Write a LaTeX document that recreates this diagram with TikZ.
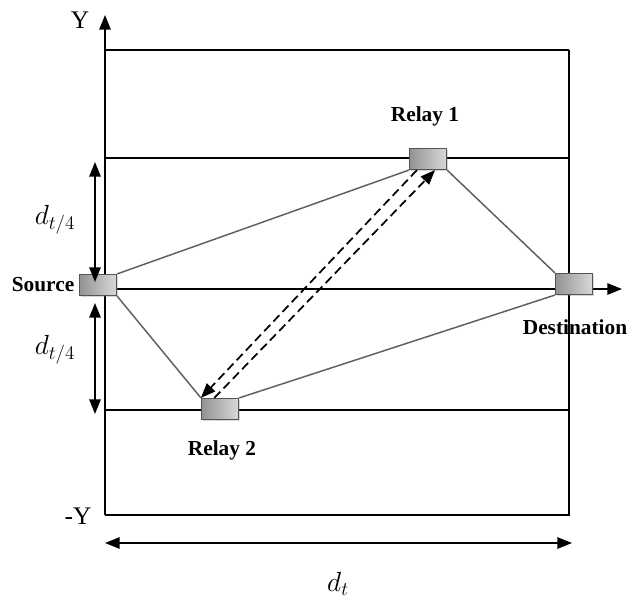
\documentclass[tikz,border=0pt]{standalone}
\usepackage{fontspec}
\setmainfont{Liberation Serif}
\usepackage{amsmath}
\usetikzlibrary{arrows.meta,positioning,shadows}
\definecolor{relayGray}{RGB}{120,120,120}
\definecolor{linkGray}{RGB}{95,95,95}

\tikzset{
  relay/.style={draw=relayGray!70!black, line width=0.6pt, minimum width=28pt, minimum height=16pt,
    inner sep=0pt, left color=gray!85, right color=gray!30,
    drop shadow={shadow xshift=1.2pt, shadow yshift=-1.2pt, opacity=0.3}},
  lbl/.style={font=\fontsize{16}{19}\selectfont\bfseries},
  link/.style={draw=linkGray, line width=1.1pt},
  grid/.style={line width=1pt},
  axis/.style={line width=1.4pt, -{Triangle[length=11pt,width=8.5pt]}},
  span/.style={line width=1.4pt, {Triangle[length=11pt,width=8.5pt]}-{Triangle[length=11pt,width=8.5pt]}},
  dim/.style={font=\fontsize{22}{26}\selectfont},
}

\begin{document}
\begin{tikzpicture}[x=0.75pt,y=-0.75pt]
\useasboundingbox[fill=white] (0,0) rectangle (630,606);
% region lines
\draw[grid] (105,50) -- (569,50);
\draw[grid] (105,158) -- (569,158);
\draw[grid] (105,410) -- (569,410);
\draw[grid] (105,515) -- (569,515) -- (569,50);
% axes
\draw[axis] (105,515) -- (105,15);
\draw[axis] (105,289) -- (622,289);
\node[font=\fontsize{19}{22}\selectfont] (ytop) at (80,20) {Y};
\node[font=\fontsize{19}{22}\selectfont] (ybot) at (78,516) {-Y};
% nodes
\node[relay] (src) at (98,285) {};
\node[relay] (rl1) at (428,159) {};
\node[relay] (rl2) at (220,409) {};
\node[relay] (dst) at (574,284) {};
\node[lbl, left=0pt of src] (srclbl) {Source};
\node[lbl] (rl1lbl) at (425,116) {Relay 1};
\node[lbl] (rl2lbl) at (222,450) {Relay 2};
\node[lbl] (dstlbl) at (575,327) {Destination};
% links
\draw[link] (src.north east) -- (rl1.south west);
\draw[link] (rl1.south east) -- (dst.north west);
\draw[link] (src.south east) -- (rl2.north west);
\draw[link] (rl2.north east) -- (dst.south west);
\draw[line width=1.3pt, dash pattern=on 6.5pt off 3.5pt, -{Triangle[length=11pt,width=8.5pt]}]
  ([xshift=6pt]rl1.south west) -- (rl2.north west);
\draw[line width=1.3pt, dash pattern=on 6.5pt off 3.5pt, -{Triangle[length=11pt,width=8.5pt]}]
  ([xshift=10pt]rl2.north west) -- ([xshift=-9pt]rl1.south east);
% distances
\coordinate (q1) at (95,162);
\coordinate (q2) at (95,282);
\coordinate (q3) at (95,303);
\coordinate (q4) at (95,414);
\draw[span] (q1) -- (q2);
\draw[span] (q3) -- (q4);
\node[dim] (dq1) at (55,220) {$d_{t/4}$};
\node[dim] (dq2) at (55,350) {$d_{t/4}$};
\coordinate (w1) at (105,543);
\coordinate (w2) at (572,543);
\draw[span] (w1) -- (w2);
\node[dim] (dw) at (338,584) {$d_t$};
\end{tikzpicture}
\end{document}
